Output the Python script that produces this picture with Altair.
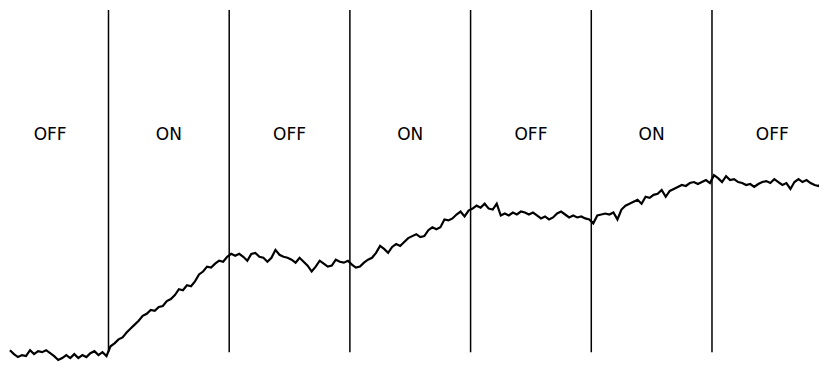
import altair as alt
import pandas as pd

# Recorder trace: signal level sampled every 20 s starting at t = 110 s
t_start = 110
t_step = 20
signal = [
    14, 10, 7, 9, 8, 14, 10, 13, 12, 14, 11, 8, 4, 6, 9, 6, 10, 6, 9, 7,
    11, 13, 9, 12, 8, 18, 21, 25, 27, 32, 36, 40, 44, 49, 51, 55, 54, 58, 59, 64,
    66, 70, 76, 75, 80, 79, 84, 91, 94, 99, 98, 102, 105, 104, 109, 112, 110, 112, 109, 105,
    112, 113, 109, 108, 104, 108, 116, 111, 109, 108, 106, 103, 108, 104, 100, 94, 99, 105, 102, 99,
    100, 106, 104, 103, 105, 101, 98, 99, 103, 106, 108, 113, 120, 117, 113, 119, 122, 120, 124, 128,
    130, 132, 129, 130, 136, 139, 137, 139, 147, 146, 148, 152, 155, 150, 156, 158, 161, 159, 163, 158,
    157, 163, 151, 153, 151, 154, 152, 155, 154, 152, 154, 151, 148, 150, 147, 149, 153, 155, 152, 149,
    151, 149, 150, 148, 147, 143, 151, 152, 153, 152, 154, 147, 157, 161, 163, 165, 167, 163, 170, 169,
    172, 173, 177, 170, 176, 178, 180, 182, 181, 184, 185, 183, 185, 187, 184, 192, 189, 185, 191, 187,
    188, 185, 184, 182, 183, 180, 183, 185, 186, 184, 188, 185, 182, 184, 178, 185, 188, 185, 187, 184,
    182, 181, 185, 184,
]
times = [t_start + t_step * i for i in range(len(signal))]

# Light switching times (s) and period labels
switch_times = [600, 1200, 1800, 2400, 3000, 3600]
label_times = [310, 900, 1500, 2100, 2700, 3300, 3900]
label_texts = ["OFF", "ON", "OFF", "ON", "OFF", "ON", "OFF"]

trace_df = pd.DataFrame({"t": times, "v": signal})
rules_df = pd.DataFrame({"t": switch_times, "y0": [12] * len(switch_times), "y1": [360] * len(switch_times)})
labels_df = pd.DataFrame({"t": label_times, "label": label_texts, "y": [233] * len(label_times)})

xscale = alt.Scale(domain=[100.4, 4132], nice=False, zero=False)
yscale = alt.Scale(domain=[2, 362], nice=False, zero=False)

trace = alt.Chart(trace_df).mark_line(color="black", strokeWidth=2.2, clip=True).encode(
    x=alt.X("t:Q", scale=xscale, axis=None),
    y=alt.Y("v:Q", scale=yscale, axis=None),
)

rules = alt.Chart(rules_df).mark_rule(color="black", strokeWidth=1.5).encode(
    x=alt.X("t:Q", scale=xscale, axis=None),
    y=alt.Y("y0:Q", scale=yscale, axis=None),
    y2="y1:Q",
)

labels = alt.Chart(labels_df).mark_text(
    font="DejaVu Sans", fontSize=17, color="black", align="center", baseline="middle"
).encode(
    x=alt.X("t:Q", scale=xscale, axis=None),
    y=alt.Y("y:Q", scale=yscale, axis=None),
    text="label:N",
)

chart = (
    alt.layer(rules, trace, labels)
    .properties(width=811, height=354, autosize=alt.AutoSizeParams(type="none"), padding=0, background="white")
    .configure_view(stroke=None)
)

chart.save("out.html", embed_options={"renderer": "svg", "actions": False})
